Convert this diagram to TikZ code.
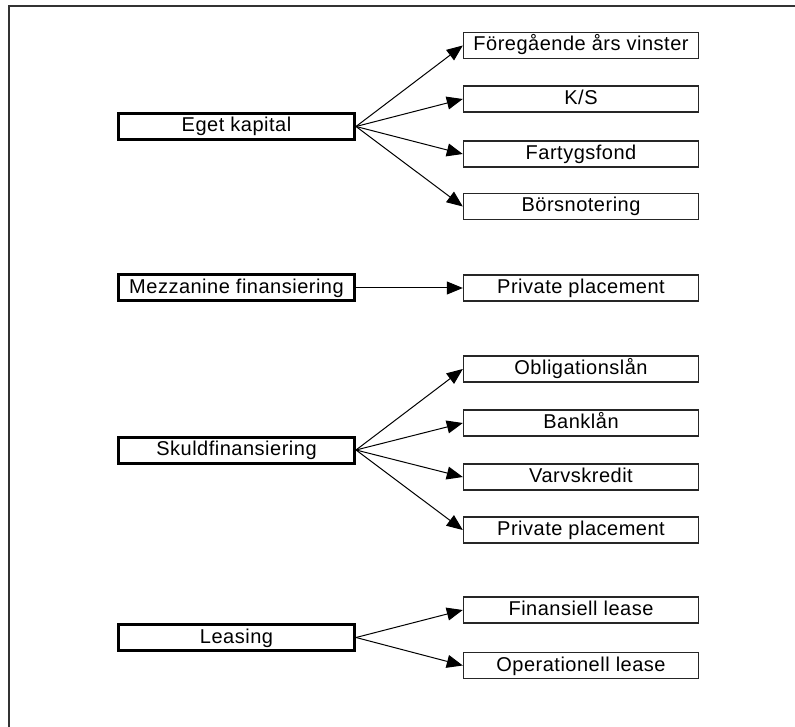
\documentclass[tikz,border=0pt]{standalone}
\usepackage{fontspec}
\setmainfont{Liberation Sans}[LetterSpace=2.5]
\usetikzlibrary{arrows.meta}
\begin{document}
\begin{tikzpicture}[x=1pt,y=-1pt,
  boxtext/.style={font=\fontsize{20}{22}\selectfont,text height=14pt,text depth=3pt},
  srcbox/.style={boxtext,draw=black,line width=3pt,minimum width=236pt,minimum height=26pt,inner sep=0pt},
  dstbox/.style={boxtext,draw=black!85,line width=1.4pt,minimum width=235pt,minimum height=26pt,inner sep=0pt},
  conn/.style={line width=1pt,-{Triangle[length=16pt,width=13pt]}},
  frame/.style={draw=black!80,line width=2pt}]
\useasboundingbox (0,0) rectangle (795,727);
\coordinate (fa) at (9,727);
\coordinate (fb) at (9,6);
\coordinate (fc) at (795,6);
\draw[frame] (fa) -- (fb) -- (fc);
% left boxes
\node[srcbox] (ek) at (236.5,126.5) {Eget kapital};
\node[srcbox] (mz) at (236.5,288) {Mezzanine finansiering};
\node[srcbox] (sk) at (236.5,450) {Skuldfinansiering};
\node[srcbox] (le) at (236.5,637.5) {Leasing};
% right boxes
\node[dstbox] (r1) at (581,45.5) {Föregående års vinster};
\node[dstbox] (r2) at (581,99) {K/S};
\node[dstbox] (r3) at (581,154) {Fartygsfond};
\node[dstbox] (r4) at (581,206.5) {Börsnotering};
\node[dstbox] (r5) at (581,288) {Private placement};
\node[dstbox] (r6) at (581,369) {Obligationslån};
\node[dstbox] (r7) at (581,423) {Banklån};
\node[dstbox] (r8) at (581,477) {Varvskredit};
\node[dstbox] (r9) at (581,530) {Private placement};
\node[dstbox] (r10) at (581,610) {Finansiell lease};
\node[dstbox] (r11) at (581,665.5) {Operationell lease};
% connectors
\foreach \t in {r1,r2,r3,r4} \draw[conn] (ek.east) -- (\t.west);
\draw[conn] (mz.east) -- (r5.west);
\foreach \t in {r6,r7,r8,r9} \draw[conn] (sk.east) -- (\t.west);
\foreach \t in {r10,r11} \draw[conn] (le.east) -- (\t.west);
\end{tikzpicture}
\end{document}
